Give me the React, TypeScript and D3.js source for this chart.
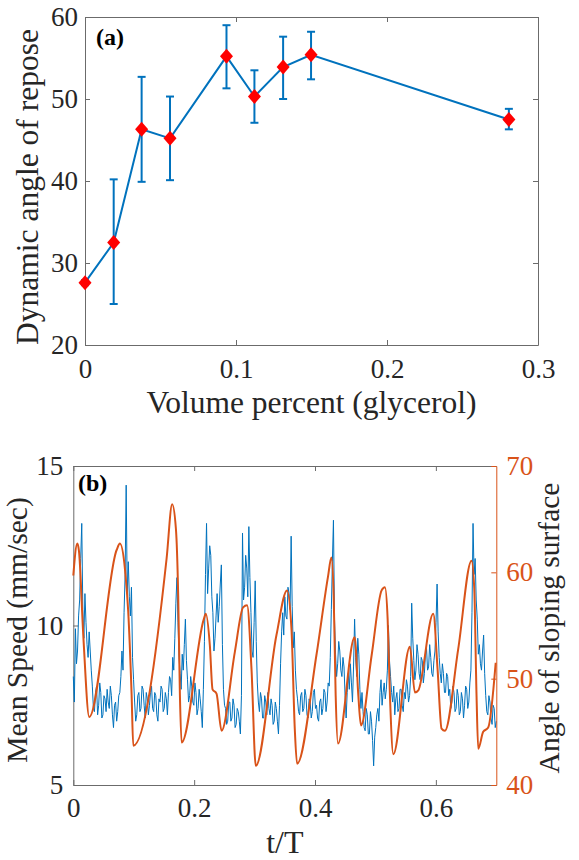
import React, { useEffect, useRef } from 'react';
import * as d3 from 'd3';

// panel (a): dynamic angle of repose vs glycerol volume percent
const glycerolPct = [0, 0.019, 0.0375, 0.0563, 0.0937, 0.1122, 0.1312, 0.1497, 0.2807];
const reposeAngle = [27.6, 32.5, 46.3, 45.2, 55.2, 50.3, 53.9, 55.4, 47.5];
const reposeLow = [27.3, 25.0, 39.9, 40.1, 51.3, 47.1, 50.0, 52.4, 46.3];
const reposeHigh = [27.9, 40.2, 52.7, 50.3, 59.0, 53.5, 57.6, 58.2, 48.8];
const pctTicks = [0, 0.1, 0.2, 0.3];
const reposeTicks = [20, 30, 40, 50, 60];

// panel (b): mean speed (left axis) and slope angle (right axis) vs t/T
const speedStep = 0.00175;
const speedValues = [
    8.4, 7.6, 9.9, 8.8, 9.2, 10.3, 10.8, 12.1, 13.2, 10.5, 9.6, 11.0, 10.1, 9.4, 9.0, 9.8, 9.2, 8.6, 8.1, 7.4,
    7.3, 7.9, 8.1, 7.2, 7.5, 8.2, 7.9, 7.1, 7.2, 7.8, 7.7, 7.3, 8.0, 7.6, 7.4, 8.1, 7.8, 7.2, 6.8, 7.5,
    7.6, 7.0, 7.3, 7.8, 7.9, 8.4, 9.2, 8.6, 10.4, 11.6, 14.4, 11.0, 12.0, 10.9, 10.3, 11.2, 9.0, 8.3, 7.6, 7.0,
    7.2, 7.8, 7.9, 7.3, 7.4, 8.1, 8.0, 7.5, 7.1, 7.9, 7.7, 7.2, 7.5, 7.9, 8.1, 7.4, 7.3, 7.9, 7.8, 7.2,
    7.0, 7.7, 7.6, 8.1, 8.0, 7.3, 7.4, 7.9, 7.7, 7.2, 7.9, 8.4, 8.3, 7.8, 9.0, 8.6, 9.6, 10.7, 11.5, 10.1,
    9.0, 8.5, 8.0, 9.1, 8.6, 9.4, 10.2, 8.9, 8.3, 7.6, 7.8, 8.4, 8.1, 7.6, 7.5, 8.2, 7.9, 7.2, 7.4, 8.0,
    7.7, 7.3, 6.8, 8.0, 9.5, 11.6, 13.2, 11.0, 11.8, 12.5, 12.2, 10.9, 10.4, 9.2, 9.6, 10.3, 11.0, 10.1, 10.6, 11.3,
    11.9, 9.4, 8.0, 7.5, 7.4, 6.9, 7.0, 7.6, 7.6, 7.0, 7.1, 7.7, 7.5, 6.8, 6.9, 7.4, 7.3, 7.0, 6.6, 7.8,
    12.9, 10.8, 11.2, 12.2, 11.8, 10.9, 13.1, 11.5, 10.4, 9.2, 9.0, 10.1, 11.4, 9.5, 8.2, 7.6, 7.3, 7.9, 7.7, 7.1,
    7.1, 7.8, 7.6, 7.2, 7.9, 7.4, 7.2, 7.7, 7.5, 6.9, 7.0, 7.6, 7.4, 7.0, 6.6, 7.5, 8.8, 9.8, 10.4, 9.7,
    10.9, 10.3, 10.2, 11.2, 11.0, 10.5, 12.8, 10.6, 9.3, 9.8, 8.6, 8.0, 7.7, 7.3, 7.2, 7.8, 7.9, 7.3, 7.4, 8.0,
    7.8, 7.2, 7.1, 7.7, 7.6, 7.1, 7.3, 7.9, 8.0, 7.4, 7.5, 7.1, 7.0, 7.6, 7.7, 7.2, 7.4, 8.0, 7.9, 7.3,
    7.6, 8.2, 8.1, 9.0, 10.5, 12.0, 13.3, 10.2, 9.1, 8.4, 8.8, 9.5, 9.2, 8.6, 8.4, 9.0, 8.7, 7.8, 7.1, 7.9,
    8.5, 8.0, 8.8, 8.2, 7.6, 8.7, 10.2, 9.0, 8.4, 9.6, 9.1, 8.0, 7.4, 7.9, 7.3, 6.8, 6.7, 7.4, 7.2, 6.6,
    6.6, 7.3, 7.0, 6.4, 5.6, 6.5, 6.8, 7.2, 7.4, 7.0, 7.9, 8.3, 7.5, 7.9, 8.2, 7.7, 8.0, 8.6, 10.0, 8.9,
    8.4, 7.9, 7.6, 8.1, 7.2, 7.7, 7.9, 7.3, 7.4, 8.0, 8.0, 7.5, 7.3, 7.9, 7.7, 8.3, 8.1, 7.6, 7.8, 8.4,
    10.7, 9.6, 8.9, 8.3, 8.6, 9.4, 9.1, 8.5, 8.3, 9.0, 8.9, 8.2, 8.5, 9.1, 9.3, 8.6, 8.7, 9.4, 9.0, 8.5,
    8.4, 8.9, 9.2, 10.1, 11.3, 9.8, 9.0, 8.5, 8.2, 8.8, 8.5, 7.9, 7.9, 8.5, 8.4, 7.8, 8.0, 7.4, 7.6, 8.1,
    7.9, 7.3, 7.4, 8.0, 7.8, 7.2, 7.3, 7.9, 7.7, 7.1, 7.5, 8.1, 8.0, 7.4, 7.6, 8.2, 8.6, 10.4, 13.2, 11.6,
    12.1, 10.8, 10.2, 9.1, 9.4, 8.8, 8.6, 9.2, 9.7, 8.5, 7.8, 7.3, 7.2, 7.8, 7.6, 7.1, 6.9, 7.5, 7.4, 6.8, 7.0,
];
const angleT = [
    0, 0.0066, 0.0094, 0.0165, 0.0264, 0.0717, 0.0772, 0.0855, 0.0909, 0.0965,
    0.0992, 0.1544, 0.1636, 0.1698, 0.1736, 0.1764, 0.1792, 0.216, 0.2193, 0.226,
    0.2304, 0.237, 0.2453, 0.2673, 0.281, 0.2876, 0.2949, 0.302, 0.3362, 0.3537,
    0.361, 0.3665, 0.3703, 0.4023, 0.4215, 0.4271, 0.4309, 0.4342, 0.438, 0.4656,
    0.4717, 0.476, 0.4937, 0.5102, 0.5157, 0.5202, 0.524, 0.5296, 0.557, 0.5653,
    0.5709, 0.5957, 0.6028, 0.6094, 0.6149, 0.637, 0.659, 0.6635, 0.6673, 0.6701,
    0.6783, 0.6866, 0.699,
];
const angleValues = [
    59.7, 62.7, 62.0, 54.1, 46.4, 62.1, 62.7, 60.3, 56.3, 48.5,
    43.7, 61.3, 66.4, 64.1, 57.8, 48.5, 44.0, 55.6, 56.1, 53.1,
    49.0, 48.6, 45.1, 52.5, 56.7, 56.9, 50.9, 41.8, 54.1, 58.3,
    54.7, 45.3, 42.0, 52.2, 59.6, 61.4, 57.8, 48.4, 43.9, 53.9,
    48.4, 45.6, 52.2, 58.3, 58.6, 55.6, 48.4, 42.9, 53.0, 48.7,
    48.9, 56.1, 50.9, 45.3, 45.1, 52.8, 61.1, 58.5, 48.4, 43.4,
    45.0, 45.4, 51.5,
];
const tTicks = [0, 0.2, 0.4, 0.6];
const speedTicks = [5, 10, 15];
const angleTicks = [40, 50, 60, 70];

const SERIF = '"Liberation Serif", "Times New Roman", serif';
const BLUE = '#0072BD';
const ORANGE = '#D95319';
const AXIS = '#6b6b6b';
const TEXT = '#262626';

const styleAxis = (g, lineColor, textColor, fontSize) => {
    g.attr('font-family', SERIF).attr('font-size', fontSize);
    g.select('.domain').attr('stroke', lineColor).attr('stroke-width', 1);
    g.selectAll('.tick line').attr('stroke', lineColor).attr('stroke-width', 1);
    g.selectAll('.tick text').attr('fill', textColor);
};

const App = () => {
    const ref = useRef(null);

    useEffect(() => {
        const width = 579;
        const height = 860;
        d3.select(ref.current).selectAll('*').remove();
        const svg = d3.select(ref.current).append('svg')
            .attr('width', width).attr('height', height)
            .style('display', 'block')
            .style('background', '#fff');

        // ---------- panel (a) ----------
        const a = { left: 85, right: 538, top: 17, bottom: 345 };
        const xa = d3.scaleLinear().domain([0, 0.3]).range([a.left, a.right]);
        const ya = d3.scaleLinear().domain([20, 60]).range([a.bottom, a.top]);

        svg.append('g').attr('transform', `translate(0,${a.bottom})`)
            .call(d3.axisBottom(xa).tickValues(pctTicks).tickSizeInner(-5).tickSizeOuter(0).tickPadding(14).tickFormat(d3.format('')))
            .call((g) => styleAxis(g, AXIS, TEXT, 27));
        svg.append('g').attr('transform', `translate(0,${a.top})`)
            .call(d3.axisTop(xa).tickValues(pctTicks).tickSizeInner(-5).tickSizeOuter(0).tickFormat(() => ''))
            .call((g) => styleAxis(g, AXIS, TEXT, 27));
        svg.append('g').attr('transform', `translate(${a.left},0)`)
            .call(d3.axisLeft(ya).tickValues(reposeTicks).tickSizeInner(-5).tickSizeOuter(0).tickPadding(7))
            .call((g) => styleAxis(g, AXIS, TEXT, 27));
        svg.append('g').attr('transform', `translate(${a.right},0)`)
            .call(d3.axisRight(ya).tickValues(reposeTicks).tickSizeInner(-5).tickSizeOuter(0).tickFormat(() => ''))
            .call((g) => styleAxis(g, AXIS, TEXT, 27));

        const reposeData = glycerolPct.map((p, i) => ({
            p, v: reposeAngle[i], lo: reposeLow[i], hi: reposeHigh[i],
        }));

        svg.append('path').datum(reposeData)
            .attr('fill', 'none').attr('stroke', BLUE).attr('stroke-width', 2)
            .attr('d', d3.line().x((d) => xa(d.p)).y((d) => ya(d.v)));

        // error bars with caps
        const bars = svg.append('g').attr('stroke', BLUE).attr('stroke-width', 2).attr('fill', 'none');
        reposeData.forEach((d) => {
            const cx = xa(d.p);
            bars.append('line').attr('x1', cx).attr('x2', cx).attr('y1', ya(d.lo)).attr('y2', ya(d.hi));
            bars.append('line').attr('x1', cx - 4).attr('x2', cx + 4).attr('y1', ya(d.lo)).attr('y2', ya(d.lo));
            bars.append('line').attr('x1', cx - 4).attr('x2', cx + 4).attr('y1', ya(d.hi)).attr('y2', ya(d.hi));
        });

        // red diamond markers
        svg.append('g').selectAll('path').data(reposeData).join('path')
            .attr('fill', '#ff0000')
            .attr('d', (d) => {
                const cx = xa(d.p);
                const cy = ya(d.v);
                return `M${cx},${cy - 7.5}L${cx + 6.5},${cy}L${cx},${cy + 7.5}L${cx - 6.5},${cy}Z`;
            });

        svg.append('text').attr('x', 96).attr('y', 45)
            .attr('font-family', SERIF).attr('font-size', 24).attr('font-weight', 'bold').attr('fill', '#000')
            .text('(a)');
        svg.append('text').attr('x', (a.left + a.right) / 2).attr('y', 413)
            .attr('text-anchor', 'middle').attr('font-family', SERIF).attr('font-size', 31.5).attr('fill', TEXT)
            .text('Volume percent (glycerol)');
        svg.append('text').attr('transform', `translate(38,${(a.top + a.bottom) / 2 + 6}) rotate(-90)`)
            .attr('text-anchor', 'middle').attr('font-family', SERIF).attr('font-size', 31.5).attr('fill', TEXT)
            .text('Dynamic angle of repose');

        // ---------- panel (b) ----------
        const b = { left: 73.3, right: 496.3, top: 466, bottom: 785 };
        const xb = d3.scaleLinear().domain([0, 0.7]).range([b.left, b.right]);
        const yl = d3.scaleLinear().domain([5, 15]).range([b.bottom, b.top]);
        const yr = d3.scaleLinear().domain([40, 70]).range([b.bottom, b.top]);

        svg.append('g').attr('transform', `translate(0,${b.bottom})`)
            .call(d3.axisBottom(xb).tickValues(tTicks).tickSizeInner(-5).tickSizeOuter(0).tickPadding(13).tickFormat(d3.format('')))
            .call((g) => styleAxis(g, AXIS, TEXT, 27));
        svg.append('g').attr('transform', `translate(0,${b.top})`)
            .call(d3.axisTop(xb).tickValues(tTicks).tickSizeInner(-5).tickSizeOuter(0).tickFormat(() => ''))
            .call((g) => styleAxis(g, AXIS, TEXT, 27));
        svg.append('g').attr('transform', `translate(${b.left},0)`)
            .call(d3.axisLeft(yl).tickValues(speedTicks).tickSizeInner(-5).tickSizeOuter(0).tickPadding(10))
            .call((g) => styleAxis(g, AXIS, TEXT, 27));

        svg.append('path').datum(speedValues)
            .attr('fill', 'none').attr('stroke', BLUE).attr('stroke-width', 1).attr('stroke-linejoin', 'round')
            .attr('d', d3.line().x((d, i) => xb(i * speedStep)).y((d) => yl(d)));

        const angleData = angleT.map((t, i) => ({ t, v: angleValues[i] }));
        svg.append('path').datum(angleData)
            .attr('fill', 'none').attr('stroke', ORANGE).attr('stroke-width', 2).attr('stroke-linejoin', 'round')
            .attr('d', d3.line().x((d) => xb(d.t)).y((d) => yr(d.v)).curve(d3.curveMonotoneX));

        svg.append('g').attr('transform', `translate(${b.right},0)`)
            .call(d3.axisRight(yr).tickValues(angleTicks).tickSizeInner(-5).tickSizeOuter(0).tickPadding(10))
            .call((g) => styleAxis(g, ORANGE, ORANGE, 27));

        svg.append('text').attr('x', 78).attr('y', 491)
            .attr('font-family', SERIF).attr('font-size', 24).attr('font-weight', 'bold').attr('fill', '#000')
            .text('(b)');
        svg.append('text').attr('x', (b.left + b.right) / 2).attr('y', 853)
            .attr('text-anchor', 'middle').attr('font-family', SERIF).attr('font-size', 32).attr('fill', TEXT)
            .text('t/T');
        svg.append('text').attr('transform', `translate(27,630) rotate(-90)`)
            .attr('text-anchor', 'middle').attr('font-family', SERIF).attr('font-size', 29.5).attr('fill', TEXT)
            .text('Mean Speed (mm/sec)');
        svg.append('text').attr('transform', `translate(559,628) rotate(-90)`)
            .attr('text-anchor', 'middle').attr('font-family', SERIF).attr('font-size', 29.5).attr('fill', TEXT)
            .text('Angle of sloping surface');
    }, []);

    return <div ref={ref} style={{ position: 'absolute', left: 0, top: 0 }}></div>;
};

export default App;
